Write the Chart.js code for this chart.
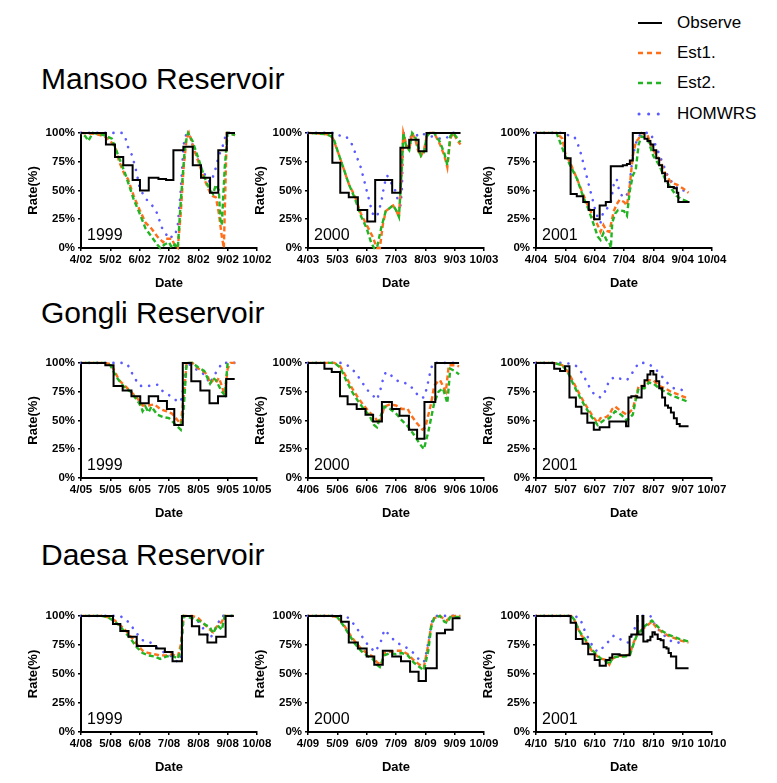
<!DOCTYPE html>
<html><head><meta charset="utf-8">
<script src="https://cdn.jsdelivr.net/npm/chart.js@4"></script>
<style>
body{margin:0;background:#fff;width:777px;height:783px;position:relative;overflow:hidden;font-family:"Liberation Sans",Arial,sans-serif;color:#000}
.title{position:absolute;left:41px;font-size:30px;line-height:30px;white-space:nowrap}
canvas{position:absolute}
.year{position:absolute;font-size:16px;line-height:16px;white-space:nowrap}
.legtxt{position:absolute;left:677px;font-size:17px;line-height:17px;white-space:nowrap}
svg{position:absolute;left:0;top:0}
</style></head><body>
<script>
// ---------- DATA (x = months after the 4/.. start date, y = rate %) ----------
const monthLabels = ['4','5','6','7','8','9','10'];
const daySuffixes = ['02','03','04','05','06','07','08','09','10'];
const reservoirs = ['Mansoo Reservoir','Gongli Reservoir','Daesa Reservoir'];
const years = ['1999','2000','2001'];
const seriesNames = ['Observe','Est1.','Est2.','HOMWRS'];
const yTicks = [0,25,50,75,100];

// Mansoo 1999
const mansoo1999_obs = [[0,100],[0.85,90],[1.16,79],[1.44,72],[1.76,59],[2.01,50],[2.31,61],[2.64,60],[2.9,59],[3.15,85],[3.49,88],[3.81,72],[4.09,61],[4.4,48],[4.68,85],[4.97,100],[5.25,100]];
const mansoo1999_est1 = [[0,100],[0.5,99],[0.8,97],[1.0,93],[1.16,88],[1.3,75],[1.5,63],[1.6,60],[1.8,45],[2.0,33],[2.2,22],[2.4,17],[2.6,10],[2.8,5],[2.9,8],[3.1,8],[3.2,2],[3.3,0],[3.4,30],[3.5,70],[3.6,95],[3.68,100],[3.8,90],[4.0,75],[4.2,60],[4.4,48],[4.5,45],[4.6,44],[4.7,30],[4.8,10],[4.87,0],[4.97,100],[5.05,100],[5.25,98]];
const mansoo1999_est2 = [[0,100],[0.15,97],[0.25,93],[0.4,100],[0.8,98],[1.05,95],[1.2,85],[1.5,65],[1.8,42],[2.0,30],[2.2,17],[2.4,10],[2.6,3],[2.7,0],[2.85,3],[3.0,5],[3.1,0],[3.2,3],[3.3,0],[3.4,40],[3.55,90],[3.65,100],[3.8,93],[4.0,78],[4.2,62],[4.4,50],[4.5,47],[4.6,55],[4.7,50],[4.75,25],[4.8,20],[4.9,70],[5.0,100],[5.25,98]];
const mansoo1999_hom = [[0,100],[1.4,100],[1.5,97],[1.6,88],[1.75,80],[1.9,65],[2.0,52],[2.2,43],[2.4,38],[2.6,30],[2.75,18],[2.9,12],[3.0,8],[3.1,10],[3.2,10],[3.3,20],[3.4,50],[3.5,90],[3.6,100],[3.7,98],[3.9,82],[4.1,70],[4.3,60],[4.4,57],[4.5,62],[4.6,70],[4.7,80],[4.85,90],[4.95,100],[5.25,100]];
// Mansoo 2000
const mansoo2000_obs = [[0,100],[0.83,74],[1.1,48],[1.39,44],[1.7,33],[2.02,23],[2.29,59],[2.87,48],[3.15,87],[3.45,94],[3.77,84],[4.04,100],[5.2,100]];
const mansoo2000_est1 = [[0,100],[0.6,99],[0.75,98],[0.85,95],[1.0,85],[1.2,70],[1.4,55],[1.6,45],[1.8,30],[2.0,20],[2.2,10],[2.35,0],[2.45,0],[2.55,20],[2.65,32],[2.8,35],[2.9,37],[3.0,33],[3.1,27],[3.2,70],[3.25,100],[3.35,90],[3.45,85],[3.55,100],[3.65,95],[3.75,85],[3.85,80],[3.95,85],[4.05,97],[4.15,100],[4.3,100],[4.5,90],[4.65,80],[4.75,70],[4.85,95],[4.95,100],[5.1,93],[5.2,90]];
const mansoo2000_est2 = [[0,100],[0.6,99],[0.8,97],[0.9,93],[1.0,85],[1.2,70],[1.4,55],[1.6,43],[1.8,28],[2.0,17],[2.15,5],[2.25,0],[2.35,0],[2.5,18],[2.65,32],[2.8,35],[2.9,37],[3.0,33],[3.1,27],[3.2,70],[3.25,100],[3.35,88],[3.45,85],[3.55,100],[3.65,97],[3.75,88],[3.85,80],[3.95,83],[4.05,97],[4.15,100],[4.3,100],[4.5,92],[4.65,82],[4.75,72],[4.85,97],[4.95,100],[5.1,95],[5.2,92]];
const mansoo2000_hom = [[0,100],[0.9,100],[1.0,98],[1.3,97],[1.5,90],[1.65,80],[1.8,70],[1.9,60],[2.0,50],[2.1,40],[2.2,30],[2.35,27],[2.5,40],[2.6,55],[2.7,63],[2.8,58],[2.95,52],[3.05,43],[3.15,37],[3.2,50],[3.25,100],[3.4,98],[3.6,95],[3.8,100],[4.2,97],[4.5,95],[4.7,95],[4.9,100],[5.2,100]];
// Mansoo 2001
const mansoo2001_obs = [[0,100],[0.99,78],[1.18,47],[1.39,45],[1.61,40],[1.8,33],[1.98,25],[2.17,37],[2.38,40],[2.55,71],[2.96,72],[3.1,73],[3.2,76],[3.3,100],[3.7,95],[3.8,93],[3.9,90],[4.0,85],[4.1,78],[4.2,72],[4.3,65],[4.4,58],[4.5,53],[4.7,52],[4.8,48],[4.85,40],[5.2,39]];
const mansoo2001_est1 = [[0,100],[0.7,100],[0.9,95],[1.0,82],[1.2,72],[1.4,60],[1.6,47],[1.8,35],[2.0,25],[2.1,20],[2.2,14],[2.3,20],[2.4,15],[2.5,14],[2.55,20],[2.65,32],[2.75,38],[2.85,42],[3.0,40],[3.1,37],[3.2,55],[3.3,80],[3.4,92],[3.5,95],[3.6,100],[3.8,98],[4.0,85],[4.2,77],[4.4,65],[4.6,57],[4.8,55],[5.0,52],[5.2,48]];
const mansoo2001_est2 = [[0,100],[0.7,100],[1.0,80],[1.2,70],[1.4,60],[1.6,45],[1.8,33],[2.0,18],[2.1,10],[2.2,7],[2.3,13],[2.4,7],[2.5,5],[2.55,0],[2.6,22],[2.7,30],[2.8,33],[3.0,32],[3.1,28],[3.2,50],[3.3,63],[3.4,68],[3.5,90],[3.6,97],[3.8,95],[4.0,80],[4.2,72],[4.4,60],[4.6,52],[4.8,45],[5.0,42],[5.2,40]];
const mansoo2001_hom = [[0,100],[0.9,100],[1.1,98],[1.3,97],[1.4,92],[1.5,85],[1.6,75],[1.7,65],[1.8,55],[1.9,45],[2.0,35],[2.1,27],[2.2,22],[2.3,32],[2.45,35],[2.55,40],[2.65,55],[2.75,60],[2.85,48],[2.95,45],[3.05,48],[3.15,45],[3.25,70],[3.35,85],[3.45,95],[3.6,100],[3.9,100],[4.1,88],[4.3,75],[4.5,62],[4.7,55],[4.9,50],[5.2,50]];
// Gongli 1999
const gongli1999_obs = [[0,100],[0.83,98],[1.11,80],[1.42,76],[1.72,71],[2.02,65],[2.31,71],[2.63,67],[2.93,60],[3.18,46],[3.47,100],[3.76,84],[4.07,76],[4.38,65],[4.67,71],[4.95,86],[5.24,86]];
const gongli1999_est1 = [[0,100],[0.8,100],[1.0,99],[1.1,95],[1.3,85],[1.5,80],[1.7,75],[1.9,70],[2.1,63],[2.3,63],[2.5,64],[2.7,60],[2.9,58],[3.1,56],[3.3,50],[3.4,47],[3.5,70],[3.6,100],[3.8,100],[4.0,95],[4.2,92],[4.3,90],[4.4,82],[4.5,85],[4.6,83],[4.7,87],[4.8,80],[4.9,72],[5.0,95],[5.1,100],[5.25,100]];
const gongli1999_est2 = [[0,100],[0.8,100],[1.0,98],[1.2,88],[1.5,78],[1.7,75],[1.9,68],[2.05,62],[2.1,58],[2.2,62],[2.3,57],[2.4,62],[2.6,55],[2.8,53],[3.0,52],[3.2,47],[3.4,42],[3.5,60],[3.6,100],[3.8,100],[4.0,96],[4.2,93],[4.4,82],[4.5,87],[4.6,85],[4.7,80],[4.8,75],[4.9,72],[5.0,100]];
const gongli1999_hom = [[0,100],[1.5,100],[1.6,98],[1.8,88],[2.0,80],[2.3,80],[2.6,81],[2.8,75],[3.0,72],[3.2,68],[3.4,66],[3.45,72],[3.6,100],[3.8,97],[4.0,93],[4.2,90],[4.4,82],[4.5,88],[4.7,95],[4.8,100],[5.25,100]];
// Gongli 2000
const gongli2000_obs = [[0,100],[0.56,95],[0.81,92],[1.09,71],[1.35,64],[1.66,60],[1.96,55],[2.22,49],[2.52,66],[2.86,60],[3.12,54],[3.44,42],[3.72,34],[3.97,66],[4.34,100],[5.15,100]];
const gongli2000_est1 = [[0,100],[0.9,100],[1.1,97],[1.3,88],[1.5,78],[1.7,70],[1.9,63],[2.1,57],[2.3,52],[2.4,48],[2.5,52],[2.6,62],[2.8,64],[3.0,63],[3.2,60],[3.4,60],[3.5,55],[3.7,48],[3.9,42],[4.0,44],[4.2,65],[4.3,80],[4.4,83],[4.5,85],[4.6,80],[4.7,75],[4.8,98],[5.0,98],[5.15,97]];
const gongli2000_est2 = [[0,100],[0.9,100],[1.1,96],[1.3,85],[1.5,75],[1.7,67],[1.9,60],[2.1,54],[2.25,46],[2.35,44],[2.45,52],[2.6,62],[2.8,60],[3.0,56],[3.2,50],[3.4,45],[3.6,38],[3.8,30],[3.95,25],[4.1,40],[4.3,65],[4.45,75],[4.6,78],[4.75,65],[4.85,95],[5.0,93],[5.15,90]];
const gongli2000_hom = [[0,100],[1.2,100],[1.4,97],[1.6,92],[1.8,85],[2.0,77],[2.2,72],[2.35,68],[2.45,75],[2.55,85],[2.65,92],[2.8,90],[3.0,85],[3.2,83],[3.4,82],[3.6,77],[3.8,70],[3.95,70],[4.05,78],[4.15,90],[4.25,100],[5.15,100]];
// Gongli 2001
const gongli2001_obs = [[0,100],[0.62,95],[0.82,93],[0.99,97],[1.14,70],[1.36,62],[1.55,56],[1.75,48],[1.97,42],[2.17,44],[2.5,49],[3.07,45],[3.15,70],[3.25,71],[3.45,70],[3.6,80],[3.7,85],[3.8,90],[3.9,93],[4.0,90],[4.1,84],[4.2,78],[4.3,70],[4.4,63],[4.5,61],[4.6,57],[4.7,52],[4.8,47],[4.9,45],[5.2,45]];
const gongli2001_est1 = [[0,100],[0.6,100],[0.9,98],[1.1,92],[1.3,82],[1.5,72],[1.7,63],[1.9,55],[2.1,48],[2.2,52],[2.4,53],[2.5,55],[2.6,60],[2.7,62],[2.9,58],[3.1,55],[3.3,60],[3.4,70],[3.5,80],[3.7,80],[3.85,85],[4.0,85],[4.2,80],[4.4,78],[4.6,75],[4.8,73],[5.0,71],[5.2,69]];
const gongli2001_est2 = [[0,100],[0.6,100],[0.9,98],[1.1,91],[1.3,80],[1.5,70],[1.7,61],[1.9,53],[2.1,46],[2.3,50],[2.5,52],[2.7,58],[2.9,55],[3.1,50],[3.3,55],[3.4,68],[3.5,78],[3.7,78],[3.85,83],[4.0,82],[4.2,78],[4.4,75],[4.6,72],[4.8,70],[5.0,68],[5.2,66]];
const gongli2001_hom = [[0,100],[1.0,100],[1.2,99],[1.4,97],[1.6,90],[1.8,80],[2.0,72],[2.2,70],[2.35,75],[2.5,85],[2.7,88],[2.9,86],[3.1,85],[3.3,92],[3.5,100],[3.7,100],[3.9,98],[4.1,94],[4.3,88],[4.5,82],[4.7,78],[4.9,77],[5.2,75]];
// Daesa 1999
const daesa1999_obs = [[0,100],[1.09,93],[1.34,87],[1.62,82],[1.9,74],[2.56,72],[2.86,69],[3.12,61],[3.44,100],[3.78,91],[4.03,84],[4.31,77],[4.61,82],[4.93,100],[5.21,100]];
const daesa1999_est1 = [[0,100],[0.7,100],[0.9,99],[1.1,97],[1.3,93],[1.5,88],[1.7,82],[1.9,76],[2.1,70],[2.3,68],[2.5,67],[2.7,66],[2.9,66],[3.1,67],[3.3,65],[3.4,75],[3.5,100],[3.8,100],[4.0,98],[4.2,93],[4.4,88],[4.5,86],[4.6,90],[4.8,95],[4.9,100],[5.2,100]];
const daesa1999_est2 = [[0,100],[0.7,100],[0.9,99],[1.1,96],[1.3,92],[1.5,86],[1.7,80],[1.9,73],[2.1,68],[2.3,66],[2.5,65],[2.7,63],[2.9,65],[3.1,66],[3.3,63],[3.4,70],[3.5,100],[3.8,98],[4.0,96],[4.2,93],[4.4,90],[4.5,85],[4.65,92],[4.8,88],[4.9,100],[5.2,100]];
const daesa1999_hom = [[0,100],[1.3,100],[1.5,98],[1.7,92],[1.9,85],[2.1,79],[2.3,78],[2.5,75],[2.7,70],[2.9,68],[3.1,65],[3.3,60],[3.4,65],[3.5,100],[3.8,98],[4.0,95],[4.2,88],[4.4,80],[4.5,85],[4.7,95],[4.8,100],[5.2,100]];
// Daesa 2000
const daesa2000_obs = [[0,100],[1.13,95],[1.39,77],[1.7,72],[2.0,65],[2.26,58],[2.55,70],[2.87,65],[3.17,61],[3.48,52],[3.77,44],[4.02,55],[4.39,85],[4.67,88],[4.93,98],[5.2,98]];
const daesa2000_est1 = [[0,100],[0.8,100],[1.0,99],[1.2,93],[1.4,85],[1.6,78],[1.8,72],[2.0,68],[2.2,65],[2.35,60],[2.5,58],[2.6,68],[2.8,69],[3.0,70],[3.2,70],[3.4,67],[3.6,62],[3.8,58],[3.95,56],[4.1,75],[4.2,92],[4.3,98],[4.5,100],[4.65,97],[4.75,96],[4.85,100],[5.2,100]];
const daesa2000_est2 = [[0,100],[0.8,100],[1.0,99],[1.2,92],[1.4,84],[1.6,76],[1.8,70],[2.0,66],[2.2,63],[2.35,58],[2.45,56],[2.6,66],[2.8,68],[3.0,67],[3.2,68],[3.4,66],[3.6,60],[3.8,56],[3.95,53],[4.1,70],[4.2,90],[4.3,98],[4.5,100],[4.65,95],[4.75,94],[4.85,99],[5.2,99]];
const daesa2000_hom = [[0,100],[1.3,100],[1.5,95],[1.7,88],[1.9,80],[2.1,73],[2.3,69],[2.5,79],[2.6,88],[2.8,83],[3.0,77],[3.2,75],[3.4,72],[3.6,68],[3.8,62],[3.95,60],[4.05,70],[4.15,85],[4.25,98],[4.4,100],[5.2,100]];
// Daesa 2001
const daesa2001_obs = [[0,100],[1.18,94],[1.36,80],[1.59,76],[1.78,67],[2.0,62],[2.17,57],[2.38,62],[2.51,64],[2.6,67],[2.85,66],[3.19,82],[3.25,84],[3.45,100],[3.47,84],[3.63,100],[3.66,78],[3.8,79],[3.9,82],[3.97,86],[4.05,84],[4.15,80],[4.25,79],[4.35,73],[4.45,72],[4.52,68],[4.6,65],[4.78,55],[5.2,55]];
const daesa2001_est1 = [[0,100],[1.2,100],[1.3,97],[1.5,85],[1.7,78],[1.9,70],[2.1,65],[2.25,63],[2.4,62],[2.5,58],[2.6,63],[2.8,66],[3.0,65],[3.2,67],[3.3,75],[3.45,85],[3.6,88],[3.7,90],[3.8,92],[3.95,95],[4.1,90],[4.3,86],[4.5,83],[4.7,81],[4.9,79],[5.2,77]];
const daesa2001_est2 = [[0,100],[1.2,100],[1.3,97],[1.5,86],[1.7,79],[1.9,71],[2.1,66],[2.25,62],[2.4,61],[2.5,58],[2.6,64],[2.8,65],[3.0,65],[3.2,66],[3.3,74],[3.45,84],[3.6,88],[3.7,91],[3.8,93],[3.95,96],[4.1,92],[4.3,87],[4.5,84],[4.7,82],[4.9,80],[5.2,78]];
const daesa2001_hom = [[0,100],[1.3,100],[1.5,98],[1.65,88],[1.8,80],[1.95,73],[2.1,69],[2.25,72],[2.4,76],[2.55,80],[2.65,83],[2.8,81],[3.0,78],[3.15,77],[3.3,85],[3.45,95],[3.55,100],[3.9,100],[4.1,90],[4.3,85],[4.5,80],[4.7,77],[4.9,77],[5.1,76]];

const panelData = [
  [mansoo1999_obs, mansoo1999_est1, mansoo1999_est2, mansoo1999_hom],
  [mansoo2000_obs, mansoo2000_est1, mansoo2000_est2, mansoo2000_hom],
  [mansoo2001_obs, mansoo2001_est1, mansoo2001_est2, mansoo2001_hom],
  [gongli1999_obs, gongli1999_est1, gongli1999_est2, gongli1999_hom],
  [gongli2000_obs, gongli2000_est1, gongli2000_est2, gongli2000_hom],
  [gongli2001_obs, gongli2001_est1, gongli2001_est2, gongli2001_hom],
  [daesa1999_obs, daesa1999_est1, daesa1999_est2, daesa1999_hom],
  [daesa2000_obs, daesa2000_est1, daesa2000_est2, daesa2000_hom],
  [daesa2001_obs, daesa2001_est1, daesa2001_est2, daesa2001_hom]
];

// ---------- LAYOUT & STYLE ----------
const COLORS = ['#000000', '#FF6F1A', '#22B422', '#5A5AFF'];
const colX = [81, 308, 536];
const rowTop = [131, 361, 614];
const rowBot = [248, 478, 732];
const titleTop = [64, 298, 540];
const PLOT_W = 176, YW = 59, XH = 47, PT = 8, PR = 22;
const FONT = '"Liberation Sans", Arial, sans-serif';

function addDiv(cls, text, left, top) {
  const d = document.createElement('div');
  d.className = cls; d.textContent = text;
  d.style.left = left + 'px'; d.style.top = top + 'px';
  document.body.appendChild(d);
  return d;
}

reservoirs.forEach((r, i) => addDiv('title', r, 41, titleTop[i]));

// legend
const legRowY = [23, 53, 83, 114];
const svgNS = 'http://www.w3.org/2000/svg';
const svg = document.createElementNS(svgNS, 'svg');
svg.setAttribute('width', 777); svg.setAttribute('height', 140);
const legDash = [null, '5 4', '5 4', '0.1 9.5'];
const legW = [2, 2.5, 2.5, 3];
seriesNames.forEach((n, i) => {
  const ln = document.createElementNS(svgNS, 'line');
  ln.setAttribute('x1', i === 3 ? 639 : 638); ln.setAttribute('x2', 662);
  ln.setAttribute('y1', legRowY[i]); ln.setAttribute('y2', legRowY[i]);
  ln.setAttribute('stroke', COLORS[i]); ln.setAttribute('stroke-width', legW[i]);
  if (legDash[i]) ln.setAttribute('stroke-dasharray', legDash[i]);
  if (i === 3) ln.setAttribute('stroke-linecap', 'round');
  svg.appendChild(ln);
  addDiv('legtxt', n, 677, legRowY[i] - 9);
});
document.body.appendChild(svg);

Chart.defaults.font.family = FONT;
Chart.defaults.color = '#000';

for (let p = 0; p < 9; p++) {
  const row = Math.floor(p / 3), col = p % 3;
  const suffix = daySuffixes[p];
  const cv = document.createElement('canvas');
  const w = YW + PLOT_W + PR, h = PT + (rowBot[row] - rowTop[row]) + XH;
  cv.style.left = (colX[col] - YW) + 'px';
  cv.style.top = (rowTop[row] - PT) + 'px';
  cv.style.width = w + 'px'; cv.style.height = h + 'px';
  cv.width = w; cv.height = h;
  document.body.appendChild(cv);

  const ds = panelData[p].map((pts, s) => ({
    label: seriesNames[s],
    data: pts.map(([x, y]) => ({x, y})),
    borderColor: COLORS[s],
    borderWidth: s === 0 ? 2 : (s === 3 ? 2.6 : 2.4),
    borderDash: s === 0 ? [] : (s === 3 ? [0.1, 8] : [5, 3]),
    borderDashOffset: s === 2 ? 4 : 0,
    borderCapStyle: s === 3 ? 'round' : 'butt',
    stepped: s === 0 ? 'before' : false,
    tension: 0, pointRadius: 0, fill: false, clip: false,
    order: [0, 2, 1, 3][s]
  }));

  new Chart(cv, {
    type: 'line',
    data: { datasets: ds },
    options: {
      responsive: false, animation: false, devicePixelRatio: 1,
      layout: { padding: { top: PT, right: PR, left: 0, bottom: 0 } },
      plugins: { legend: { display: false }, tooltip: { enabled: false } },
      scales: {
        x: {
          type: 'linear', min: 0, max: 6,
          afterFit: s => { s.height = XH; },
          afterBuildTicks: s => { s.ticks = monthLabels.map((m, i) => ({ value: i })); },
          ticks: { autoSkip: false, maxRotation: 0, padding: 2, font: { size: 11.5, weight: 'bold' },
                   callback: v => monthLabels[v] + '/' + suffix },
          grid: { drawOnChartArea: false, color: '#000', lineWidth: 1.5, tickLength: 3 },
          border: { color: '#000', width: 2 },
          title: { display: true, text: 'Date', font: { size: 13, weight: 'bold' }, padding: { top: 4, bottom: 4 } }
        },
        y: {
          min: 0, max: 100,
          afterFit: s => { s.width = YW; },
          afterBuildTicks: s => { s.ticks = yTicks.map(v => ({ value: v })); },
          ticks: { padding: 3, font: { size: 11.5, weight: 'bold' }, callback: v => v + '%' },
          grid: { drawOnChartArea: false, color: '#000', lineWidth: 1.5, tickLength: 3 },
          border: { color: '#000', width: 2 },
          title: { display: true, text: 'Rate(%)', font: { size: 13, weight: 'bold' }, padding: { top: 4, bottom: 4 } }
        }
      }
    }
  });

  addDiv('year', years[col], colX[col] + 6, rowBot[row] - 21);
}
</script>
</body></html>
